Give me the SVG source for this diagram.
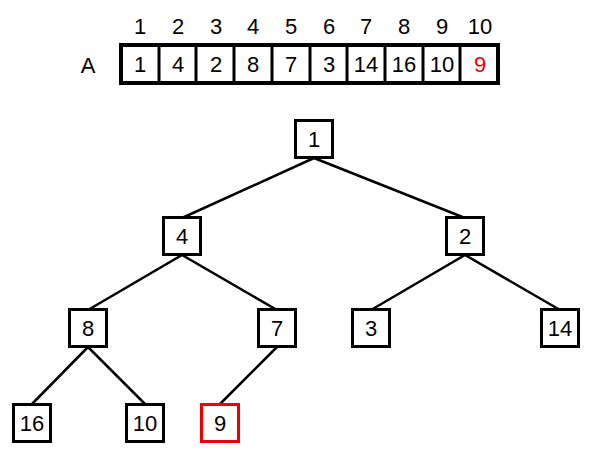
<svg xmlns="http://www.w3.org/2000/svg" width="591" height="456" viewBox="0 0 591 456">
<style>
text{font-family:"Liberation Sans",Arial,sans-serif;font-size:22px;text-anchor:middle;fill:#000}
.box{fill:#fff;stroke:#000;stroke-width:3}
.red{stroke:#e00}
.edge{stroke:#000;stroke-width:2.5;fill:none}
</style>
<rect width="591" height="456" fill="#fff"/>
<g id="array">
<text x="88" y="73">A</text>
<g id="indices">
<text x="140" y="34">1</text><text x="178" y="34">2</text><text x="216" y="34">3</text><text x="253" y="34">4</text><text x="291" y="34">5</text><text x="329" y="34">6</text><text x="366" y="34">7</text><text x="404" y="34">8</text><text x="442" y="34">9</text><text x="480" y="34">10</text>
</g>
<rect x="121" y="45" width="377" height="38" fill="#fff" stroke="#000" stroke-width="4"/>
<path d="M159 45V83M196 45V83M234 45V83M272 45V83M310 45V83M347 45V83M385 45V83M423 45V83M460 45V83" stroke="#000" stroke-width="3"/>
<text x="140" y="72">1</text><text x="178" y="72">4</text><text x="216" y="72">2</text><text x="253" y="72">8</text><text x="291" y="72">7</text><text x="329" y="72">3</text><text x="366" y="72">14</text><text x="404" y="72">16</text><text x="442" y="72">10</text><text x="480" y="72" style="fill:#e00">9</text>
</g>
<g id="edges">
<line class="edge" x1="314" y1="158" x2="182" y2="218"/>
<line class="edge" x1="314" y1="158" x2="465" y2="218"/>
<line class="edge" x1="182" y1="255" x2="88" y2="310"/>
<line class="edge" x1="182" y1="255" x2="277" y2="310"/>
<line class="edge" x1="465" y1="255" x2="371" y2="310"/>
<line class="edge" x1="465" y1="255" x2="560" y2="310"/>
<line class="edge" x1="88" y1="347" x2="32" y2="404"/>
<line class="edge" x1="88" y1="347" x2="145" y2="404"/>
<line class="edge" x1="277" y1="347" x2="220" y2="404"/>
</g>
<g id="n1"><rect class="box" x="295.5" y="120.5" width="37" height="37"/><text x="314" y="147">1</text></g>
<g id="n2"><rect class="box" x="163.5" y="217.5" width="37" height="37"/><text x="182" y="244">4</text></g>
<g id="n3"><rect class="box" x="446.5" y="217.5" width="37" height="37"/><text x="465" y="244">2</text></g>
<g id="n4"><rect class="box" x="69.5" y="309.5" width="37" height="37"/><text x="88" y="336">8</text></g>
<g id="n5"><rect class="box" x="258.5" y="309.5" width="37" height="37"/><text x="277" y="336">7</text></g>
<g id="n6"><rect class="box" x="352.5" y="309.5" width="37" height="37"/><text x="371" y="336">3</text></g>
<g id="n7"><rect class="box" x="541.5" y="309.5" width="37" height="37"/><text x="560" y="336">14</text></g>
<g id="n8"><rect class="box" x="13.5" y="404.5" width="37" height="37"/><text x="32" y="431">16</text></g>
<g id="n9"><rect class="box" x="126.5" y="404.5" width="37" height="37"/><text x="145" y="431">10</text></g>
<g id="n10"><rect class="box red" x="201.5" y="404.5" width="37" height="37"/><text x="220" y="431">9</text></g>
</svg>
